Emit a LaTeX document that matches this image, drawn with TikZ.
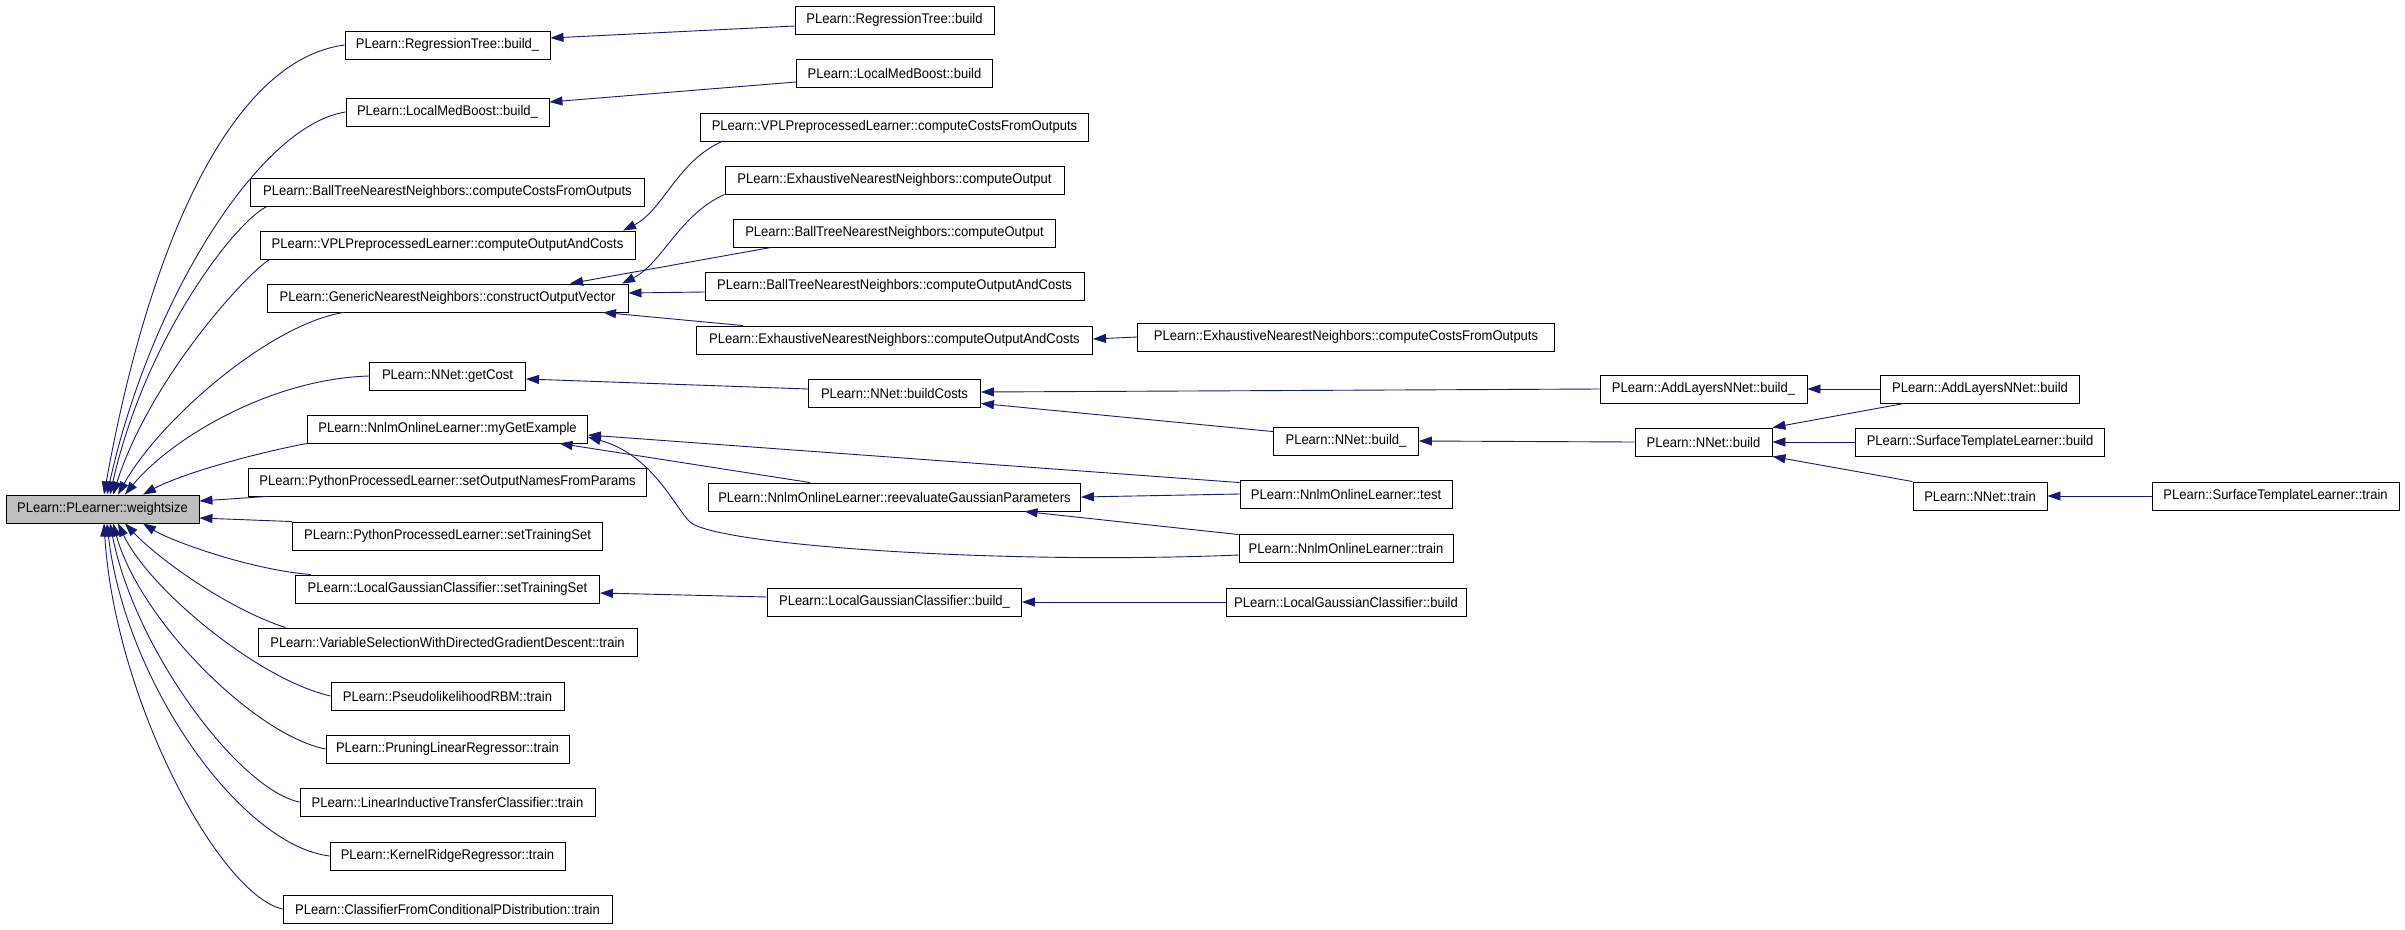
\documentclass[tikz,border=0pt]{standalone}
\usepackage{fontspec}
\setmainfont{Liberation Sans}[FakeStretch=0.93]
\usepackage{xcolor}
\usetikzlibrary{arrows.meta}
\definecolor{dxblue}{HTML}{191970}

\begin{document}
\begin{tikzpicture} [ x=1pt, y=1pt,
    fn/.style={draw=black, line width=0.9pt, minimum height=28pt, inner sep=0pt, font=\fontsize{14}{16}\selectfont},
    cur/.style={fn, fill=black!25},
    call/.style={dxblue, line width=0.9pt, -{Triangle[length=13pt,width=9pt]}},
  ]
    \useasboundingbox (0,0) rectangle (2405,-929);

    \node[cur, minimum width=193pt] (ws) at (102.5,-509) {PLearn::PLearner::weightsize};

    % first rank
    \node[fn, minimum width=205pt] (rtbu) at (447.5,-45) {PLearn::RegressionTree::build\_};
    \node[fn, minimum width=203pt] (lmbu) at (447.5,-112) {PLearn::LocalMedBoost::build\_};
    \node[fn, minimum width=394pt] (btccfo) at (447.5,-192) {PLearn::BallTreeNearestNeighbors::computeCostsFromOutputs};
    \node[fn, minimum width=375pt] (vplcoac) at (447.5,-245) {PLearn::VPLPreprocessedLearner::computeOutputAndCosts};
    \node[fn, minimum width=361pt] (gnncov) at (447.5,-298) {PLearn::GenericNearestNeighbors::constructOutputVector};
    \node[fn, minimum width=156pt] (nngc) at (447.5,-376) {PLearn::NNet::getCost};
    \node[fn, minimum width=280pt] (nlmge) at (447.5,-429) {PLearn::NnlmOnlineLearner::myGetExample};
    \node[fn, minimum width=398pt] (pplson) at (447.5,-482) {PLearn::PythonProcessedLearner::setOutputNamesFromParams};
    \node[fn, minimum width=310pt] (pplsts) at (447.5,-536) {PLearn::PythonProcessedLearner::setTrainingSet};
    \node[fn, minimum width=304pt] (lgcsts) at (447.5,-589) {PLearn::LocalGaussianClassifier::setTrainingSet};
    \node[fn, minimum width=379pt] (vswdgd) at (447.5,-642) {PLearn::VariableSelectionWithDirectedGradientDescent::train};
    \node[fn, minimum width=233pt] (prbm) at (447.5,-696) {PLearn::PseudolikelihoodRBM::train};
    \node[fn, minimum width=243pt] (plr) at (447.5,-749) {PLearn::PruningLinearRegressor::train};
    \node[fn, minimum width=295pt] (litc) at (447.5,-802) {PLearn::LinearInductiveTransferClassifier::train};
    \node[fn, minimum width=235pt] (krr) at (447.5,-856) {PLearn::KernelRidgeRegressor::train};
    \node[fn, minimum width=329pt] (cfcpd) at (447.5,-909) {PLearn::ClassifierFromConditionalPDistribution::train};

    % second rank
    \node[fn, minimum width=199pt] (rtb) at (894.5,-20) {PLearn::RegressionTree::build};
    \node[fn, minimum width=196pt] (lmb) at (894.5,-73) {PLearn::LocalMedBoost::build};
    \node[fn, minimum width=388pt] (vplccfo) at (894.5,-127) {PLearn::VPLPreprocessedLearner::computeCostsFromOutputs};
    \node[fn, minimum width=339pt] (enco) at (894.5,-180) {PLearn::ExhaustiveNearestNeighbors::computeOutput};
    \node[fn, minimum width=322pt] (btco) at (894.5,-233) {PLearn::BallTreeNearestNeighbors::computeOutput};
    \node[fn, minimum width=379pt] (btcoac) at (894.5,-286) {PLearn::BallTreeNearestNeighbors::computeOutputAndCosts};
    \node[fn, minimum width=396pt] (encoac) at (894.5,-340) {PLearn::ExhaustiveNearestNeighbors::computeOutputAndCosts};
    \node[fn, minimum width=172pt] (nnbc) at (894.5,-393) {PLearn::NNet::buildCosts};
    \node[fn, minimum width=372pt] (nlmrgp) at (894.5,-497) {PLearn::NnlmOnlineLearner::reevaluateGaussianParameters};
    \node[fn, minimum width=254pt] (lgcbu) at (894.5,-602) {PLearn::LocalGaussianClassifier::build\_};

    % third rank
    \node[fn, minimum width=417pt] (enccfo) at (1346,-337) {PLearn::ExhaustiveNearestNeighbors::computeCostsFromOutputs};
    \node[fn, minimum width=145pt] (nnbu) at (1346,-441) {PLearn::NNet::build\_};
    \node[fn, minimum width=212pt] (nlmtest) at (1346,-494) {PLearn::NnlmOnlineLearner::test};
    \node[fn, minimum width=214pt] (nlmtrain) at (1346,-548) {PLearn::NnlmOnlineLearner::train};
    \node[fn, minimum width=240pt] (lgcb) at (1346,-602) {PLearn::LocalGaussianClassifier::build};

    \node[fn, minimum width=207pt] (alnbu) at (1703.5,-389) {PLearn::AddLayersNNet::build\_};
    \node[fn, minimum width=137pt] (nnb) at (1703.5,-442) {PLearn::NNet::build};

    \node[fn, minimum width=199pt] (alnb) at (1980,-389) {PLearn::AddLayersNNet::build};
    \node[fn, minimum width=249pt] (stlb) at (1980,-442) {PLearn::SurfaceTemplateLearner::build};
    \node[fn, minimum width=134pt] (nntrain) at (1980,-496) {PLearn::NNet::train};

    \node[fn, minimum width=247pt] (stlt) at (2275.5,-496) {PLearn::SurfaceTemplateLearner::train};

    % callers of weightsize
    \draw[call] (rtbu.west) .. controls +(-115,-15) and +(44,245) .. ([xshift=1.5pt]ws.north);
    \draw[call] (lmbu.west) .. controls +(-86,-13) and +(43,195) .. ([xshift=4.5pt]ws.north);
    \draw[call] ([xshift=17pt]btccfo.south west) .. controls +(-33,-16) and +(35,155) .. ([xshift=7.5pt]ws.north);
    \draw[call] ([xshift=10pt]vplcoac.south west) .. controls +(-25,-16) and +(37,115) .. ([xshift=10.5pt]ws.north);
    \draw[call] ([xshift=77pt]gnncov.south west) .. controls +(-74,-12) and +(42,75) .. ([xshift=15.5pt]ws.north);
    \draw[call] (nngc.west) .. controls +(-100,-3) and +(45,55) .. ([xshift=22.5pt]ws.north);
    \draw[call] (nlmge.south west) .. controls +(-58,-11) and +(37,20) .. ([xshift=40.5pt]ws.north);
    \draw[call] ([xshift=19pt]pplson.south west) -- ([yshift=8pt]ws.east);
    \draw[call] (pplsts.north west) -- ([yshift=-9pt]ws.east);
    \draw[call] ([xshift=16pt]lgcsts.north west) .. controls +(-62,5) and +(27,-17) .. ([xshift=40.5pt]ws.south);
    \draw[call] ([xshift=28pt]vswdgd.north west) .. controls +(-56,18) and +(35,-37) .. ([xshift=22.5pt]ws.south);
    \draw[call] (prbm.west) .. controls +(-71,16) and +(32,-67) .. ([xshift=15.5pt]ws.south);
    \draw[call] (plr.west) .. controls +(-71,14) and +(27,-97) .. ([xshift=10.5pt]ws.south);
    \draw[call] (litc.west) .. controls +(-60,12) and +(25,-127) .. ([xshift=7.5pt]ws.south);
    \draw[call] (krr.west) .. controls +(-90,11) and +(18,-157) .. ([xshift=4.5pt]ws.south);
    \draw[call] (cfcpd.west) .. controls +(-63,14) and +(11,-177) .. ([xshift=1.5pt]ws.south);

    \draw[call] ([yshift=-6pt]rtb.west) -- ([yshift=7pt]rtbu.east);
    \draw[call] ([yshift=-9pt]lmb.west) -- ([yshift=10pt]lmbu.east);
    \draw[call] ([xshift=22pt]vplccfo.south west) .. controls +(-45,-20) and +(40,20) .. ([xshift=175.5pt]vplcoac.north);
    \draw[call] (enco.south west) .. controls +(-45,-20) and +(40,20) .. ([xshift=174.5pt]gnncov.north);
    \draw[call] ([xshift=38pt]btco.south west) -- ([xshift=122.5pt]gnncov.north);
    \draw[call] ([yshift=-6pt]btcoac.west) -- ([yshift=5pt]gnncov.east);
    \draw[call] ([xshift=47pt]encoac.north west) -- ([xshift=155.5pt]gnncov.south);
    \draw[call] (enccfo.west) -- ([yshift=1pt]encoac.east);

    \draw[call] ([yshift=4pt]nnbc.west) -- ([yshift=-3pt]nngc.east);
    \draw[call] (alnbu.west) -- ([yshift=1pt]nnbc.east);
    \draw[call] ([yshift=-5pt]nnbu.north west) -- ([yshift=4pt]nnbc.south east);
    \draw[call] (nnb.west) -- (nnbu.east);
    \draw[call] (alnb.west) -- (alnbu.east);
    \draw[call] ([xshift=24pt]alnb.south west) -- (nnb.north east);
    \draw[call] (stlb.west) -- (nnb.east);
    \draw[call] (nntrain.north west) -- (nnb.south east);
    \draw[call] (stlt.west) -- (nntrain.east);

    \coordinate (dip) at (690,-522);
    \draw[call] ([xshift=102pt]nlmrgp.north west) -- ([xshift=112pt]nlmge.south);
    \draw[call] ([yshift=-3pt]nlmtest.north west) -- ([yshift=-6pt]nlmge.east);
    \draw[call] ([yshift=-7pt]nlmtrain.west) .. controls +(-239,-10) and +(25,-23) .. (dip) .. controls +(-15,14) and +(65,-18) .. ([yshift=-8pt]nlmge.east);
    \draw[call] (nlmtest.west) -- (nlmrgp.east);
    \draw[call] ([yshift=-1pt]nlmtrain.north west) -- ([xshift=130pt]nlmrgp.south);

    \draw[call] ([yshift=5pt]lgcbu.west) -- ([yshift=-4pt]lgcsts.east);
    \draw[call] (lgcb.west) -- (lgcbu.east);

\end{tikzpicture}
\end{document}
